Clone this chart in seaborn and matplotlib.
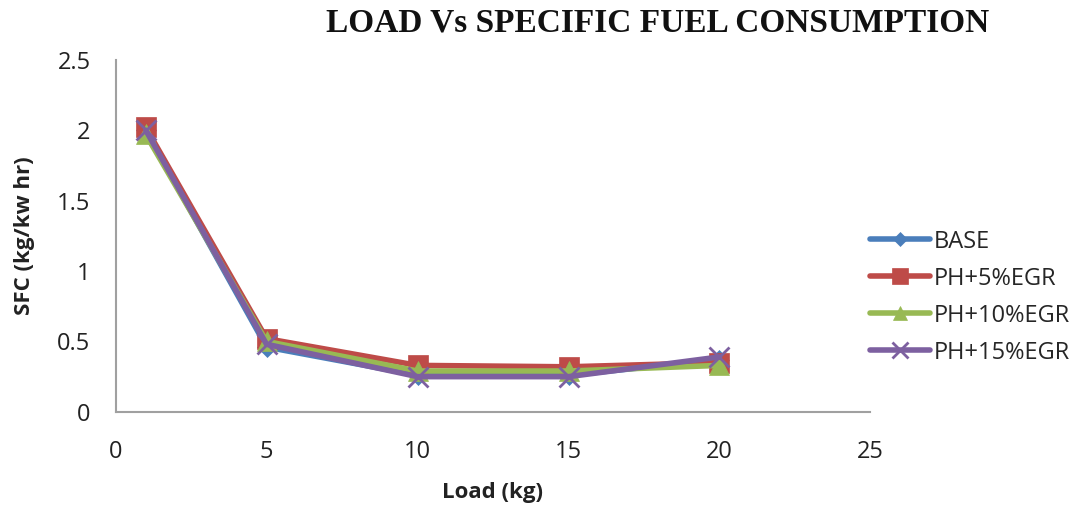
import matplotlib
matplotlib.use("Agg")
import matplotlib.pyplot as plt
import seaborn as sns
import pandas as pd

load_kg = [1, 5, 10, 15, 20]
sfc_base = [2.00, 0.46, 0.26, 0.26, 0.37]
sfc_ph5 = [2.02, 0.52, 0.33, 0.32, 0.35]
sfc_ph10 = [1.97, 0.50, 0.29, 0.29, 0.33]
sfc_ph15 = [2.00, 0.48, 0.25, 0.25, 0.39]
series_names = ["BASE", "PH+5%EGR", "PH+10%EGR", "PH+15%EGR"]

sns.set_theme(style="white")
plt.rcParams["font.family"] = ["Open Sans", "DejaVu Sans"]

colors = ["#4A7EBB", "#BE4B48", "#98B954", "#7D60A0"]
markers = ["D", "s", "^", "x"]
msizes = [10, 15, 14, 15]

frames = []
for name, vals in zip(series_names, [sfc_base, sfc_ph5, sfc_ph10, sfc_ph15]):
    frames.append(pd.DataFrame({"Load": load_kg, "SFC": vals, "Series": name}))
df = pd.concat(frames, ignore_index=True)

fig = plt.figure(figsize=(10.8, 5.11), dpi=100)
ax = fig.add_axes([0.107, 0.194, 0.699, 0.689])

for name, c, m, ms in zip(series_names, colors, markers, msizes):
    sub = df[df["Series"] == name]
    sns.lineplot(data=sub, x="Load", y="SFC", ax=ax, color=c, marker=m,
                 markersize=ms, linewidth=4, label=name,
                 markeredgecolor=c, markeredgewidth=2 if m == "x" else 0.5)

ax.set_xlim(0, 25)
ax.set_ylim(0, 2.5)
ax.set_xticks([0, 5, 10, 15, 20, 25])
ax.set_yticks([0, 0.5, 1, 1.5, 2, 2.5])
ax.set_yticklabels(["0", "0.5", "1", "1.5", "2", "2.5"])
ax.tick_params(axis="x", labelsize=17, colors="#222222", length=0, pad=20)
ax.tick_params(axis="y", labelsize=17, colors="#222222", length=0, pad=18)

for s in ["top", "right"]:
    ax.spines[s].set_visible(False)
for s in ["left", "bottom"]:
    ax.spines[s].set_color("#A0A0A0")
    ax.spines[s].set_linewidth(1.5)

ax.set_xlabel("Load (kg)", fontsize=16, fontweight="bold", color="#222222")
ax.set_ylabel("SFC (kg/kw hr)", fontsize=16, fontweight="bold", color="#222222")
ax.xaxis.set_label_coords(0.499, -0.23)
ax.yaxis.set_label_coords(-0.121, 0.5)
ax.xaxis.label.set_va("center")
ax.yaxis.label.set_va("center")

fig.text(0.609, 0.955, "LOAD Vs SPECIFIC FUEL CONSUMPTION", ha="center", va="center",
         fontsize=24, fontweight="bold", family="Liberation Serif", color="#111111")

ax.legend(loc="center left", bbox_to_anchor=(1.0, 0.326), frameon=False,
          fontsize=17, handlelength=2.5, labelspacing=0.55, handletextpad=0.2,
          borderaxespad=0, borderpad=0, markerscale=0.75)

fig.savefig("out.png", dpi=100, facecolor="white")
